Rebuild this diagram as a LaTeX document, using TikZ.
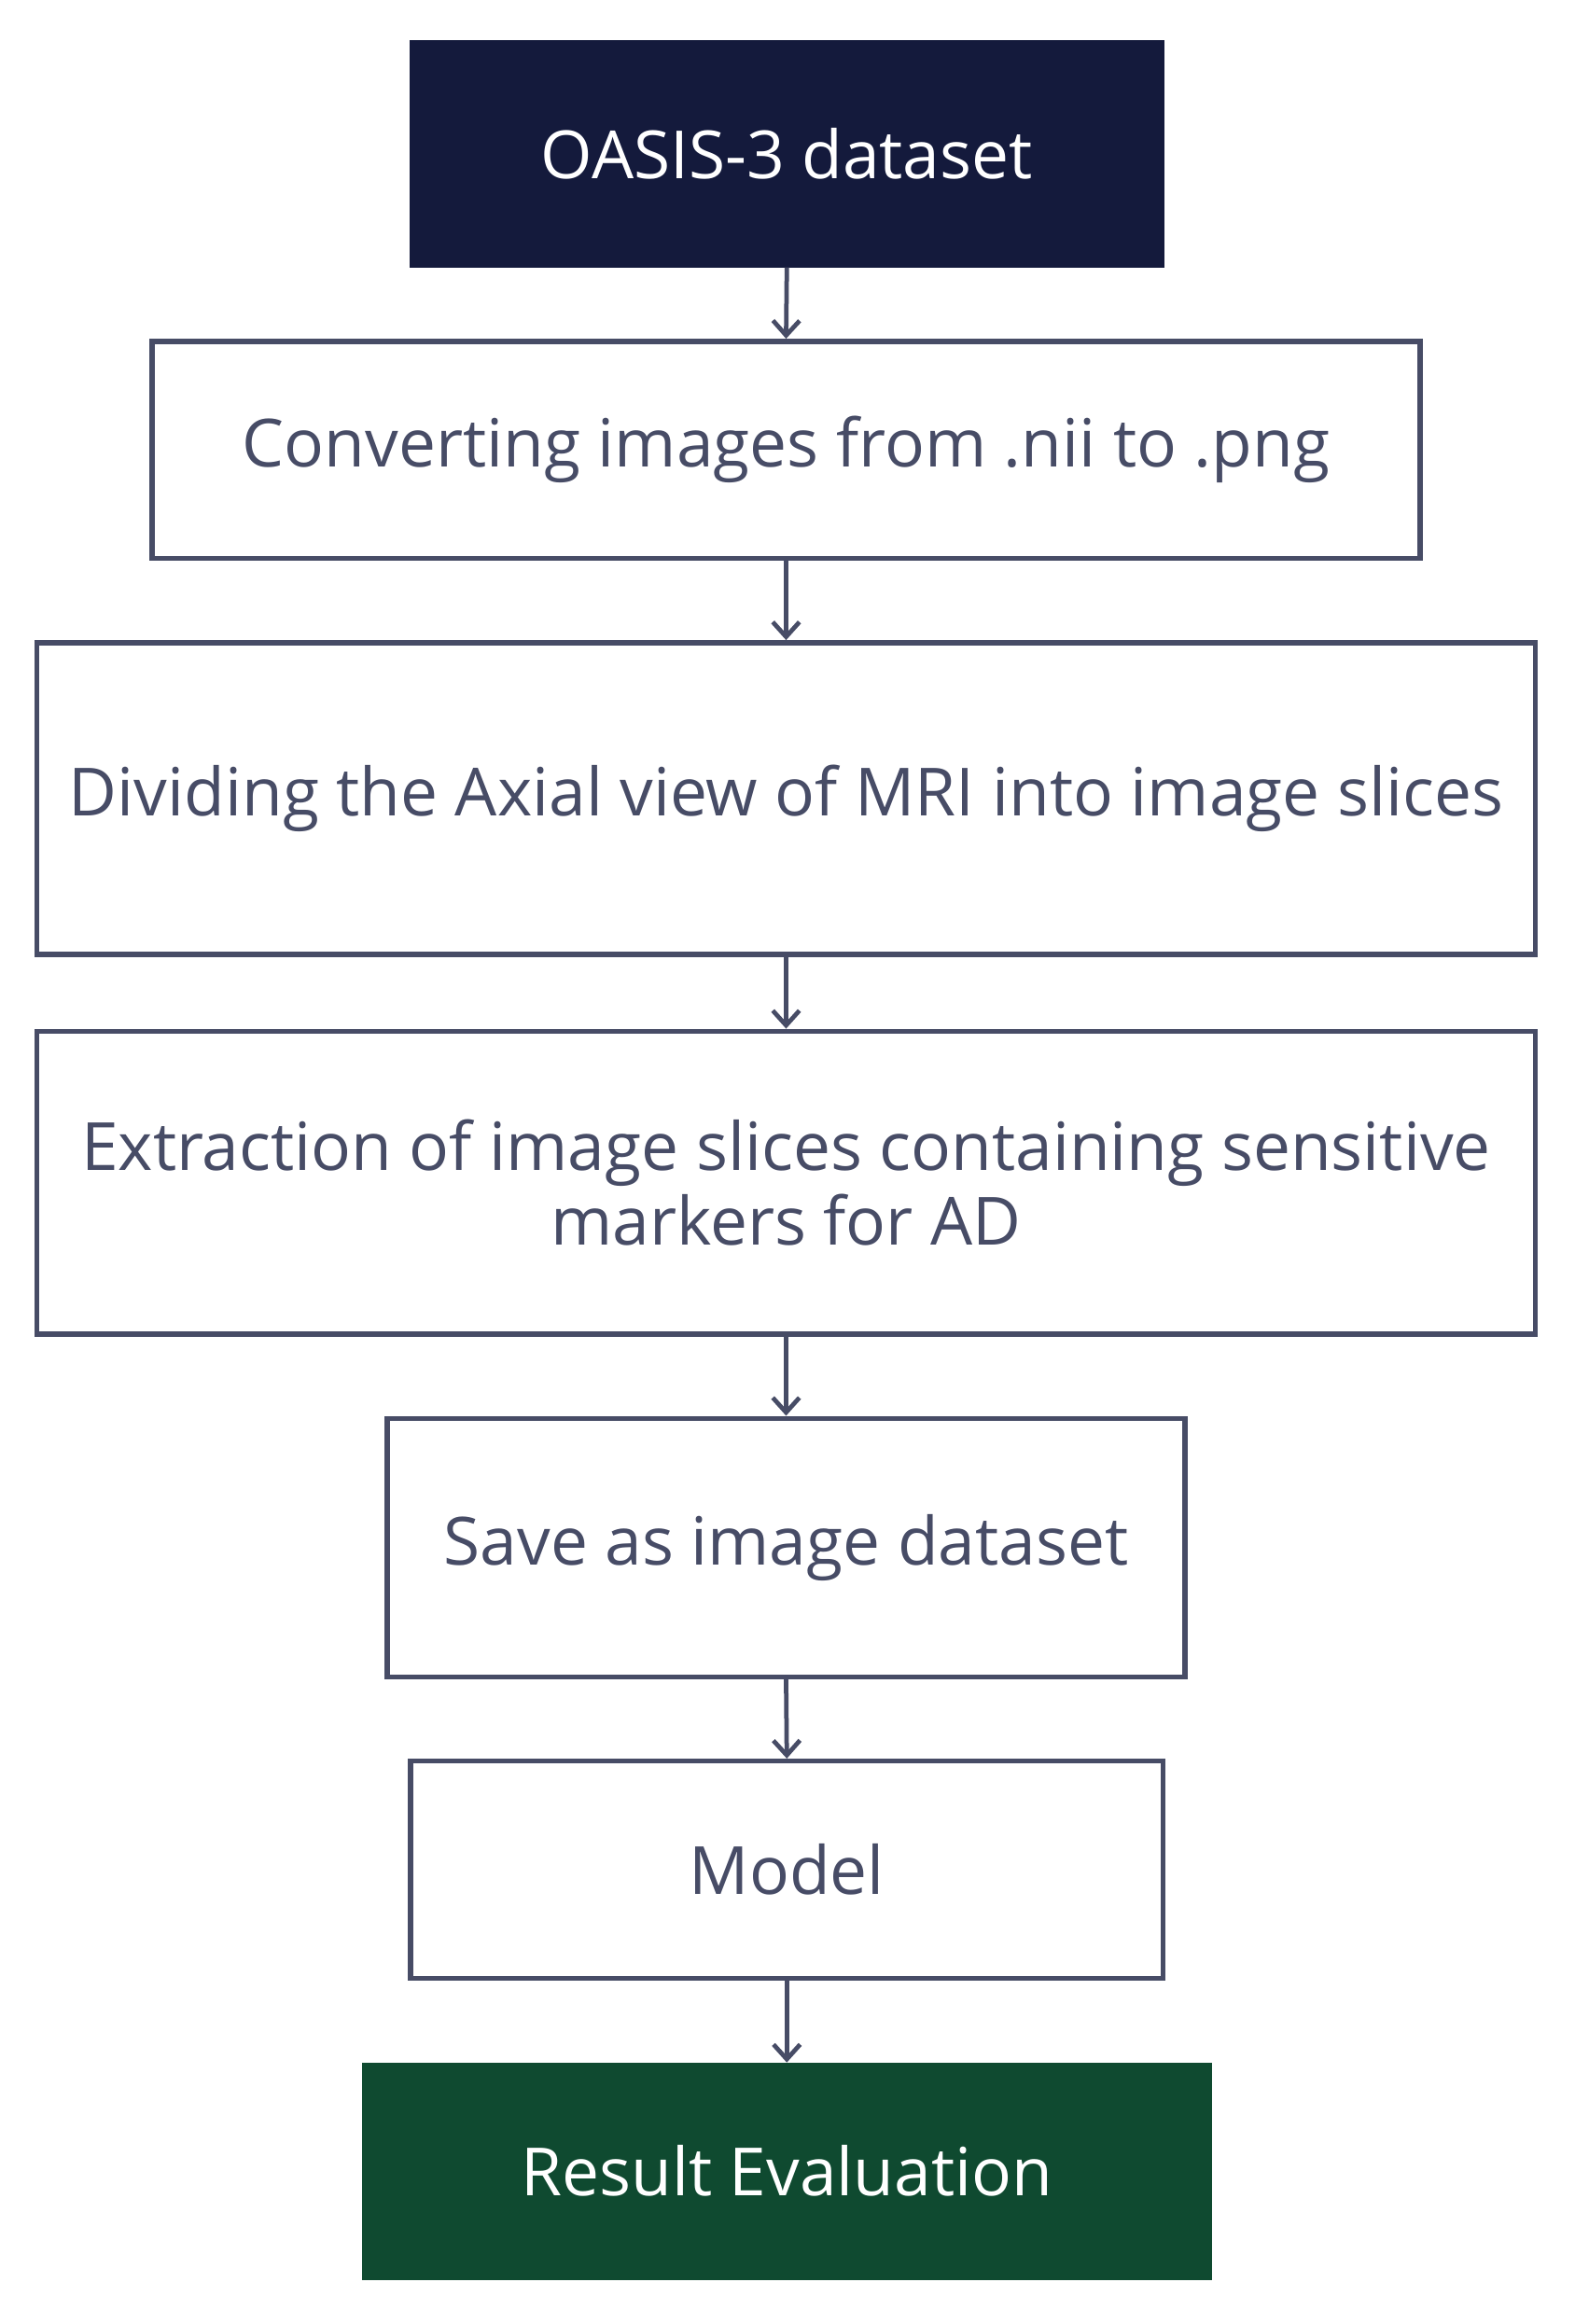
\documentclass[tikz,border=0pt]{standalone}
\usepackage{fontspec}
\setmainfont{Open Sans}
\usetikzlibrary{arrows.meta}
\definecolor{navy}{HTML}{141A3C}
\definecolor{dgreen}{HTML}{0F4A30}
\definecolor{ink}{HTML}{474C66}
\begin{document}
\begin{tikzpicture}[x=1pt,y=-1pt,
 box/.style={draw=ink,line width=3.5pt,text=ink,font=\fontsize{45}{51}\selectfont,align=center,inner sep=0pt},
 dark/.style={line width=0pt,text=white,font=\fontsize{45}{51}\selectfont,inner sep=0pt},
 arr/.style={draw=ink,line width=3pt,-{Straight Barb[length=10pt,width=18pt,line width=3pt]}}]
\useasboundingbox (0,0) rectangle (1075,1573);
\node[dark,fill=navy,minimum width=511pt,minimum height=154pt] (a) at (532.5,104) {OASIS-3 dataset};
\node[box,minimum width=858pt,minimum height=147pt] (b) at (532,304.5) {Converting images from .nii to .png};
\node[box,minimum width=1014pt,minimum height=211pt] (c) at (532,540.5) {Dividing the Axial view of MRI into image slices};
\node[box,minimum width=1014pt,minimum height=205pt] (d) at (532,800.5) {Extraction of image slices containing sensitive\\markers for AD};
\node[box,minimum width=540pt,minimum height=175pt] (e) at (532,1047.5) {Save as image dataset};
\node[box,minimum width=509pt,minimum height=147pt] (f) at (532.5,1265.5) {Model};
\node[dark,fill=dgreen,minimum width=575pt,minimum height=147pt] (g) at (532.5,1469.5) {Result Evaluation};
\draw[arr] (a.south) -- (b.north);
\draw[arr] (b.south) -- (c.north);
\draw[arr] (c.south) -- (d.north);
\draw[arr] (d.south) -- (e.north);
\draw[arr] (e.south) -- (f.north);
\draw[arr] (f.south) -- (g.north);
\end{tikzpicture}
\end{document}
